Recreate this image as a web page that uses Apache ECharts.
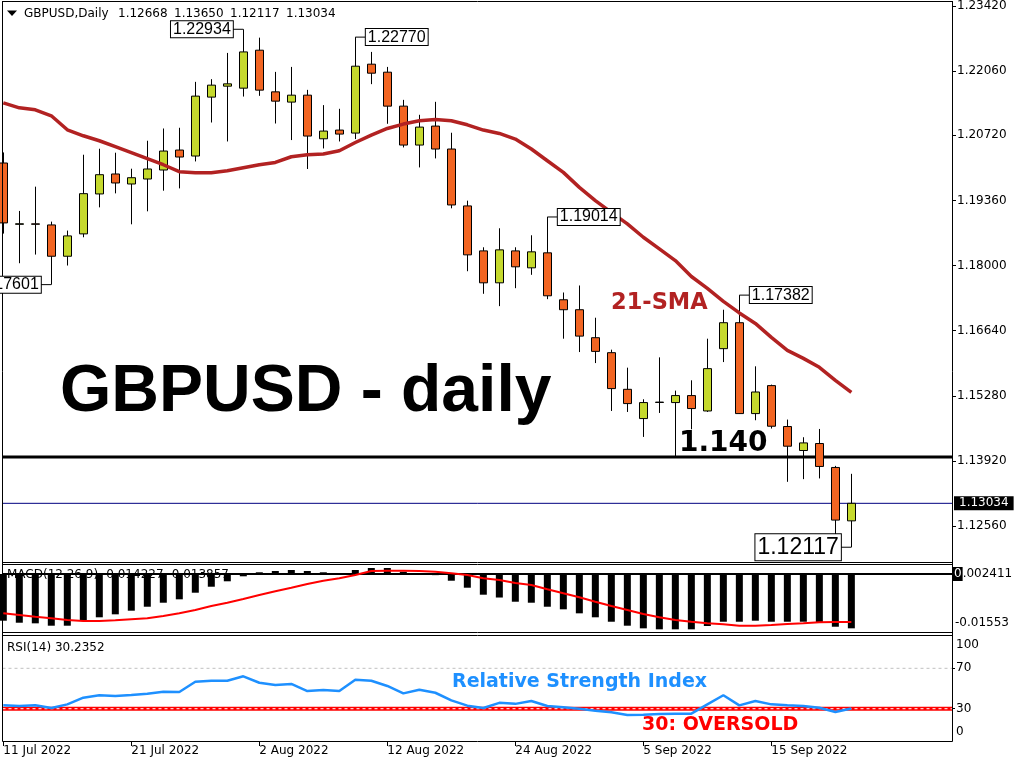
<!DOCTYPE html>
<html><head><meta charset="utf-8">
<script src="https://cdn.jsdelivr.net/npm/echarts@6/dist/echarts.min.js"></script>
<style>html,body{margin:0;padding:0;background:#fff}#c{width:1024px;height:768px}</style>
</head><body><div id="c"></div>
<script>
// ---------------- data ----------------
const dates = ['11 Jul 2022','12 Jul 2022','13 Jul 2022','14 Jul 2022','15 Jul 2022','18 Jul 2022','19 Jul 2022','20 Jul 2022','21 Jul 2022','22 Jul 2022',
'25 Jul 2022','26 Jul 2022','27 Jul 2022','28 Jul 2022','29 Jul 2022','1 Aug 2022','2 Aug 2022','3 Aug 2022','4 Aug 2022','5 Aug 2022',
'8 Aug 2022','9 Aug 2022','10 Aug 2022','11 Aug 2022','12 Aug 2022','15 Aug 2022','16 Aug 2022','17 Aug 2022','18 Aug 2022','19 Aug 2022',
'22 Aug 2022','23 Aug 2022','24 Aug 2022','25 Aug 2022','26 Aug 2022','29 Aug 2022','30 Aug 2022','31 Aug 2022','1 Sep 2022','2 Sep 2022',
'5 Sep 2022','6 Sep 2022','7 Sep 2022','8 Sep 2022','9 Sep 2022','12 Sep 2022','13 Sep 2022','14 Sep 2022','15 Sep 2022','16 Sep 2022',
'19 Sep 2022','20 Sep 2022','21 Sep 2022','22 Sep 2022'];
const open  = [1.20141,1.18861,1.18870,1.18848,1.18194,1.18661,1.19495,1.19912,1.19703,1.19807,
1.19995,1.20412,1.20287,1.21517,1.21746,1.21704,1.22497,1.21627,1.21413,1.21558,
1.20647,1.20829,1.20766,1.22205,1.22038,1.21329,1.20516,1.20912,1.20433,1.19245,
1.18306,1.17639,1.18306,1.17952,1.18265,1.17285,1.17077,1.16493,1.16180,1.15415,
1.14804,1.15140,1.15138,1.15284,1.14963,1.16264,1.16806,1.14908,1.15492,1.14638,
1.14137,1.14283,1.13783,1.12668];
const high  = [1.20362,1.19140,1.19647,1.18917,1.18730,1.20314,1.20439,1.20356,1.20022,1.20606,
1.20862,1.20877,1.21836,1.21892,1.22440,1.22934,1.22759,1.22044,1.22148,1.21669,
1.21350,1.21273,1.22770,1.22461,1.22148,1.21460,1.21148,1.21419,1.20773,1.19355,
1.18381,1.18778,1.18381,1.18632,1.19014,1.17437,1.17583,1.16910,1.16243,1.15867,
1.15207,1.16082,1.15388,1.15603,1.16472,1.17077,1.17382,1.15895,1.15513,1.14783,
1.14414,1.14587,1.13816,1.13650];
const low   = [1.18667,1.18048,1.18229,1.17601,1.18000,1.18590,1.19215,1.19507,1.18861,1.19132,
1.19563,1.19611,1.20174,1.20987,1.20591,1.21529,1.21544,1.20966,1.20620,1.20016,
1.20445,1.20591,1.20641,1.21788,1.20960,1.20466,1.20049,1.20237,1.19195,1.17881,
1.17410,1.17152,1.17527,1.17806,1.17298,1.16472,1.16193,1.15963,1.14963,1.14942,
1.14421,1.14921,1.14018,1.14581,1.14942,1.15984,1.14900,1.14769,1.14596,1.13483,
1.13539,1.13554,1.12330,1.12117];
const close = [1.18890,1.18872,1.18862,1.18194,1.18619,1.19501,1.19897,1.19724,1.19834,1.20016,
1.20391,1.20266,1.21538,1.21767,1.21794,1.22461,1.21663,1.21433,1.21558,1.20704,
1.20808,1.20745,1.22163,1.22017,1.21329,1.20516,1.20891,1.20433,1.19265,1.18223,
1.17639,1.18327,1.17973,1.18286,1.17368,1.17077,1.16526,1.16207,1.15430,1.15117,
1.15138,1.15148,1.15284,1.15013,1.15847,1.16806,1.14908,1.15359,1.14644,1.14227,
1.14296,1.13804,1.12684,1.13034];
const sma21 = [1.21398,1.21294,1.21252,1.21127,1.20835,1.20710,1.20606,1.20481,1.20356,1.20231,
1.20105,1.19960,1.19939,1.19939,1.19980,1.20043,1.20105,1.20153,1.20272,1.20314,
1.20329,1.20397,1.20570,1.20725,1.20862,1.20954,1.21023,1.21050,1.21023,1.20939,
1.20829,1.20758,1.20641,1.20433,1.20189,1.19945,1.19632,1.19355,1.19111,1.18869,
1.18590,1.18348,1.18104,1.17771,1.17521,1.17250,1.17010,1.16791,1.16499,1.16228,
1.16061,1.15874,1.15603,1.15353];
const macdHist = [-0.01223,-0.01276,-0.01292,-0.01354,-0.01354,-0.01205,-0.01134,-0.01056,-0.00961,-0.00857,
-0.00752,-0.00663,-0.00490,-0.00333,-0.00191,-0.00060,0.00045,0.00079,0.00105,0.00079,
0.00045,0.00010,0.00105,0.00157,0.00157,0.00060,0.00010,-0.00030,-0.00176,-0.00359,
-0.00542,-0.00616,-0.00726,-0.00752,-0.00857,-0.00925,-0.01030,-0.01134,-0.01250,-0.01354,
-0.01423,-0.01449,-0.01449,-0.01449,-0.01362,-0.01250,-0.01250,-0.01223,-0.01250,-0.01250,
-0.01250,-0.01276,-0.01381,-0.014227];
const macdSignal = [-0.01030,-0.01074,-0.01119,-0.01161,-0.01205,-0.01231,-0.01231,-0.01213,-0.01187,-0.01161,
-0.01100,-0.01030,-0.00943,-0.00838,-0.00752,-0.00655,-0.00550,-0.00453,-0.00359,-0.00262,
-0.00176,-0.00113,-0.00026,0.00079,0.00086,0.00086,0.00079,0.00060,0.00018,-0.00026,
-0.00113,-0.00157,-0.00236,-0.00288,-0.00401,-0.00506,-0.00610,-0.00726,-0.00838,-0.00943,
-0.01048,-0.01134,-0.01205,-0.01250,-0.01292,-0.01318,-0.01354,-0.01354,-0.01336,-0.01310,
-0.01292,-0.01265,-0.01258,-0.01258];
const rsi14 = [33.4,32.7,33.4,30.7,34.3,40.9,43.3,42.6,43.6,44.9,
46.8,46.5,56.7,57.7,57.7,62.1,55.7,53.5,54.5,47.5,
48.5,47.5,58.7,57.7,52.5,45.2,48.8,45.8,38.3,33.0,
30.7,35.8,34.8,37.6,32.7,31.4,30.0,28.0,26.4,23.8,
24.1,24.8,25.1,25.1,34.3,43.3,33.3,37.6,34.3,33.3,
32.7,31.0,26.7,30.2352];
const priceTicks = [1.2342,1.2206,1.2072,1.1936,1.1800,1.1664,1.1528,1.1392,1.1256];
const dateTickIdx = [0,8,16,24,32,40,48];
const rsiTicks = [0,30,70,100];
const rsiLevels = {overbought:70, oversold:30};
const swingMarks = [
  {i:3,  price:1.17601, side:'left'},
  {i:15, price:1.22934, side:'left'},
  {i:22, price:1.22770, side:'right'},
  {i:34, price:1.19014, side:'right'},
  {i:46, price:1.17382, side:'right'},
  {i:53, price:1.12117, side:'left', big:true}
];
const levelPrice = 1.140;
const lastPrice = 1.13034;
const macdRange = {max:0.002411, min:-0.01553};
const headerText = {symbol:'GBPUSD,Daily', ohlc:['1.12668','1.13650','1.12117','1.13034'],
  macd:'MACD(12,26,9) -0.014227 -0.013857', rsi:'RSI(14) 30.2352'};

// ---------------- chart ----------------
const F = 'DejaVu Sans';
const X_MIN = -0.05, X_MAX = 59.29;
const PRICE_MIN = 1.118086, PRICE_MAX = 1.235034;
const chart = echarts.init(document.getElementById('c'), null, {renderer:'canvas'});
const idx = a => a.map((v,i)=>[i,v]);
const span = v => [[X_MIN, v],[X_MAX, v]];
const GREEN = '#c5d92d', ORANGE = '#f26522';

function hiddenX(gi){ return {type:'value', gridIndex:gi, min:X_MIN, max:X_MAX, show:false,
  axisLine:{show:false, onZero:false}, splitLine:{show:false}}; }

const option = {
  animation:false,
  backgroundColor:'#ffffff',
  textStyle:{fontFamily:F},
  grid:[
    {left:2.5, right:72, top:1, height:561},
    {left:2.5, right:72, top:564.8, height:68.5},
    {left:2.5, right:72, top:636.5, height:104.5}
  ],
  xAxis:[hiddenX(0), hiddenX(1), {
    type:'value', gridIndex:2, min:X_MIN, max:X_MAX, splitLine:{show:false},
    axisLine:{show:false, onZero:false},
    axisTick:{show:true, customValues:dateTickIdx, length:5, lineStyle:{color:'#000'}},
    axisLabel:{show:true, customValues:dateTickIdx, formatter:v=>dates[Math.round(v)], align:'left',
      margin:4, color:'#000', fontFamily:F, fontSize:12}
  }],
  yAxis:[
    {type:'value', gridIndex:0, position:'right', min:PRICE_MIN, max:PRICE_MAX, scale:true,
     splitLine:{show:false}, axisLine:{show:false, onZero:false},
     axisTick:{show:true, customValues:priceTicks, length:4, lineStyle:{color:'#000'}},
     axisLabel:{show:true, customValues:priceTicks, formatter:v=>v.toFixed(5), margin:5,
       color:'#000', fontFamily:F, fontSize:12}},
    {type:'value', gridIndex:1, position:'right', min:macdRange.min, max:macdRange.max,
     splitLine:{show:false}, axisLine:{show:false, onZero:false}, axisTick:{show:false}, axisLabel:{show:false}},
    {type:'value', gridIndex:2, position:'right', min:-1.98, max:101.5,
     splitLine:{show:false}, axisLine:{show:false, onZero:false},
     axisTick:{show:true, customValues:[30,70], length:3, lineStyle:{color:'#000'}},
     axisLabel:{show:true, customValues:rsiTicks, margin:4, color:'#000', fontFamily:F, fontSize:12,
       formatter:v=> v===100 ? '{t|100}' : (v===0 ? '{b|0}' : String(v)),
       rich:{t:{padding:[14,0,0,0], fontFamily:F, fontSize:12, color:'#000'},
             b:{padding:[0,0,14,0], fontFamily:F, fontSize:12, color:'#000'}}}}
  ],
  series:[
    {type:'line', xAxisIndex:0, yAxisIndex:0, data:span(levelPrice), symbol:'none', silent:true,
     lineStyle:{color:'#000', width:3}, z:1},
    {type:'line', xAxisIndex:0, yAxisIndex:0, data:span(lastPrice), symbol:'none', silent:true,
     lineStyle:{color:'#000080', width:1}, z:1},
    {type:'candlestick', xAxisIndex:0, yAxisIndex:0, barWidth:9,
     data:dates.map((d,i)=>[i, open[i], close[i], low[i], high[i]]),
     encode:{x:0, y:[1,2,3,4]},
     itemStyle:{color:GREEN, color0:ORANGE, borderColor:'#000', borderColor0:'#000', borderWidth:1},
     z:2},
    {type:'line', xAxisIndex:0, yAxisIndex:0, data:idx(sma21), symbol:'none', smooth:false,
     lineStyle:{color:'#b22222', width:3.5}, z:3},
    {type:'line', xAxisIndex:1, yAxisIndex:1, data:span(0), symbol:'none', silent:true,
     lineStyle:{color:'#000', width:2}, z:2},
    {type:'bar', xAxisIndex:1, yAxisIndex:1, data:idx(macdHist), barWidth:7,
     itemStyle:{color:'#000'}, z:3},
    {type:'line', xAxisIndex:1, yAxisIndex:1, data:idx(macdSignal), symbol:'none',
     lineStyle:{color:'#ff0000', width:2}, z:4},
    {type:'line', xAxisIndex:2, yAxisIndex:2, data:span(rsiLevels.overbought), symbol:'none', silent:true,
     lineStyle:{color:'#c0c0c0', width:1, type:[3,3]}, z:2},
    {type:'line', xAxisIndex:2, yAxisIndex:2, data:span(rsiLevels.oversold), symbol:'none', silent:true,
     lineStyle:{color:'#ff0000', width:4}, z:2},
    {type:'line', xAxisIndex:2, yAxisIndex:2, data:span(rsiLevels.oversold), symbol:'none', silent:true,
     lineStyle:{color:'#ffffff', width:1, type:[3,3]}, z:2},
    {type:'line', xAxisIndex:2, yAxisIndex:2, data:idx(rsi14), symbol:'none',
     lineStyle:{color:'#1e90ff', width:2.5}, z:5}
  ]
};
chart.setOption(option);

// ---------------- overlays (frames, annotations) ----------------
const g = [];
const L = (x1,y1,x2,y2,w,c)=>g.push({type:'line', z:50, silent:true, shape:{x1,y1,x2,y2}, style:{stroke:c||'#000', lineWidth:w||1}});
// frames
L(2.5,1.5,952.5,1.5); L(2.5,1,2.5,741.5); L(952.5,1,952.5,741.5);
L(2.5,562.5,952.5,562.5); L(2.5,564.5,952.5,564.5);
L(2.5,632.5,952.5,632.5); L(2.5,635.5,952.5,635.5);
L(2.5,741.5,952.5,741.5);

// header
g.push({type:'polygon', z:50, shape:{points:[[7,10.5],[17,10.5],[12,16]]}, style:{fill:'#000'}});
const T = (x,y,text,font,fill)=>g.push({type:'text', z:60, silent:true,
   style:{x,y,text,font,fill:fill||'#000',align:'left',verticalAlign:'middle'}});
T(24,14,headerText.symbol,'12px "DejaVu Sans"');
headerText.ohlc.forEach((s,j)=>T(118+56*j,14,s,'12px "DejaVu Sans"'));
g.push({type:'text', z:0, silent:true, style:{x:7,y:575,text:headerText.macd,font:'12px "DejaVu Sans"',fill:'#000',verticalAlign:'middle'}});
T(7,648,headerText.rsi,'12px "DejaVu Sans"');

// big annotation texts
T(60,393,'GBPUSD - daily','bold 66px "Liberation Sans"','#000');
T(679,444,'1.140','bold 28px "DejaVu Sans"','#000');
T(611,303,'21-SMA','bold 22.5px "DejaVu Sans"','#b22222');
T(452,682,'Relative Strength Index','bold 19px "DejaVu Sans"','#1e90ff');
T(642,725,'30: OVERSOLD','bold 19px "DejaVu Sans"','#ff0000');

// swing high / low labels
swingMarks.forEach(m=>{
  const p = chart.convertToPixel({xAxisIndex:0, yAxisIndex:0}, [m.i, m.price]);
  const gap = 10.5;
  const ex = m.side==='left' ? p[0]-gap : p[0]+gap;
  L(p[0], p[1], ex, p[1], 1, '#000');
  g.push({type:'text', z:70, silent:true, style:{
    x: ex, y: p[1], text: m.price.toFixed(5),
    font: m.big ? '23px "Liberation Sans"' : '16px "Liberation Sans"',
    fill:'#000', align: m.side==='left' ? 'right' : 'left', verticalAlign:'middle',
    backgroundColor:'#fff', borderColor:'#000', borderWidth:1,
    padding: m.big ? [2,2,1,2] : [0,2,0,2]
  }});
});

// current price tag on axis
const lp = chart.convertToPixel({xAxisIndex:0, yAxisIndex:0}, [0, lastPrice]);
g.push({type:'text', z:70, silent:true, style:{x:954, y:lp[1], text:lastPrice.toFixed(5),
  font:'12px "DejaVu Sans"', fill:'#fff', backgroundColor:'#000', padding:[1,5,1,5],
  align:'left', verticalAlign:'middle'}});

// MACD scale labels
const z0 = chart.convertToPixel({xAxisIndex:1, yAxisIndex:1}, [0, 0]);
const zb = chart.convertToPixel({xAxisIndex:1, yAxisIndex:1}, [0, macdRange.min]);
g.push({type:'text', z:70, silent:true, style:{x:953, y:z0[1],
  text:'{k|0}{n|' + macdRange.max.toFixed(6).slice(1) + '}',
  font:'12px "DejaVu Sans"', fill:'#000', align:'left', verticalAlign:'middle',
  rich:{k:{backgroundColor:'#000', fill:'#fff', font:'12px "DejaVu Sans"', padding:[1,1,1,1]},
        n:{fill:'#000', font:'12px "DejaVu Sans"'}}}});
L(952.5, z0[1], 956, z0[1], 1, '#000');
g.push({type:'text', z:70, silent:true, style:{x:955, y:zb[1]-10, text:macdRange.min.toFixed(5),
  font:'12px "DejaVu Sans"', fill:'#000', align:'left', verticalAlign:'middle'}});

chart.setOption({graphic:g});
</script>
</body></html>
